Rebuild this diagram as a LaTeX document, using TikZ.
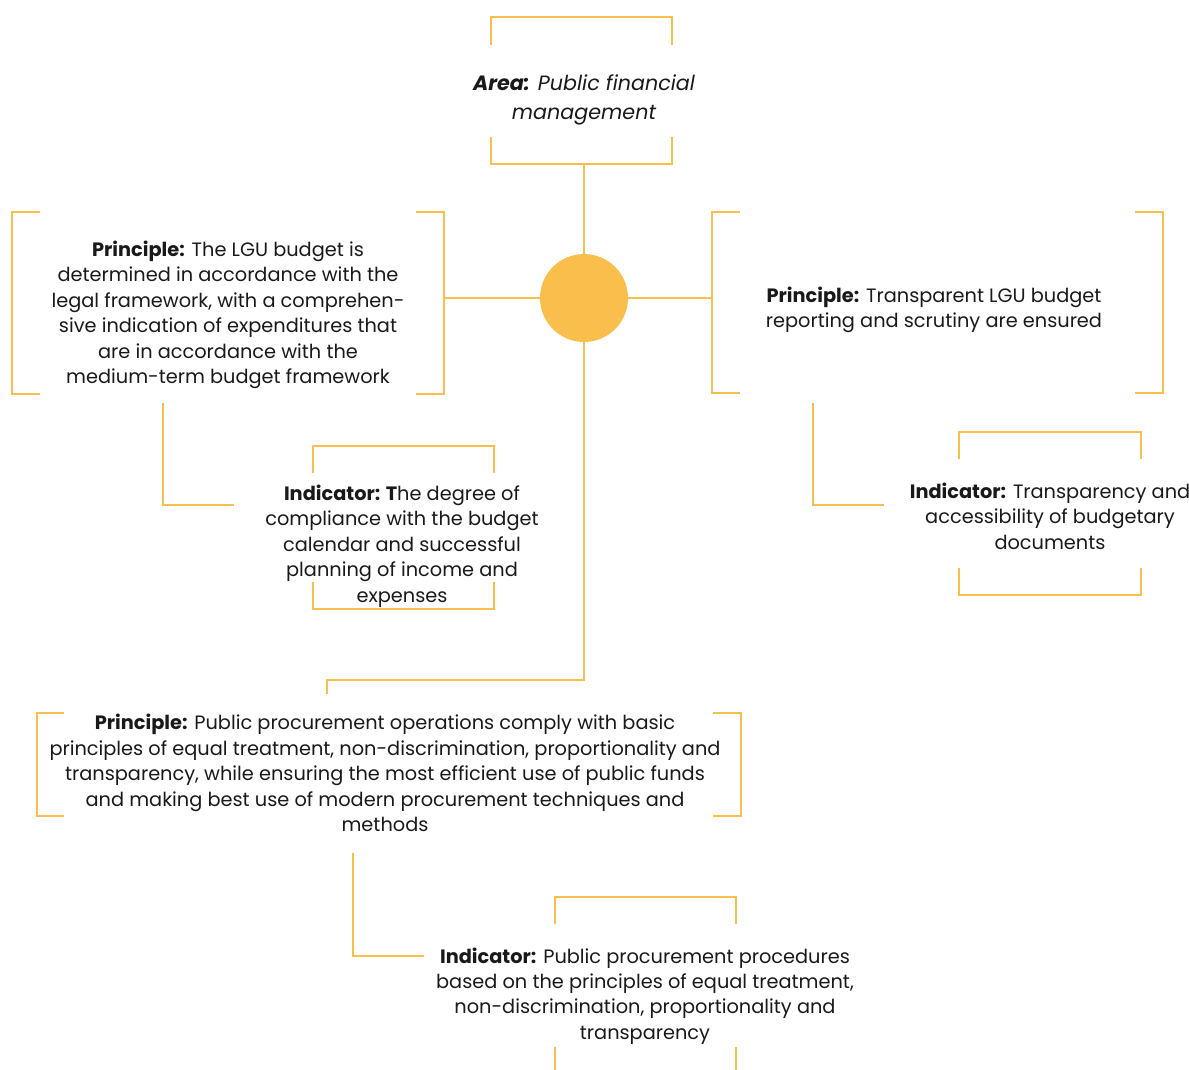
\documentclass[tikz,border=0pt]{standalone}
\usepackage{fontspec}
\setmainfont{Poppins}
\definecolor{gold}{HTML}{F9BE4C}
\tikzset{
  brk/.style={draw=gold, line width=1.9pt},
  link/.style={draw=gold, line width=1.9pt},
  txt/.style={align=center, inner sep=0pt, text=black!90, font=\fontsize{14.5}{19.1}\selectfont},
  areatxt/.style={align=center, inner sep=0pt, text=black!90, font=\fontsize{15.5}{21.8}\selectfont\itshape}
}
\begin{document}
\begin{tikzpicture}[x=0.75pt,y=-0.75pt]
\useasboundingbox (0,0) rectangle (1189,1070);
% Area
\draw[brk] (491,45) -- (491,17) -- (672,17) -- (672,45);
\draw[brk] (491,137) -- (491,164) -- (672,164) -- (672,137);
\coordinate (areabot) at (584,164);
\node[areatxt] (area) at (584,100) {\textbf{Area:} Public financial\\management};
% hub
\node[circle, fill=gold, minimum size=88*0.75pt, inner sep=0pt] (hub) at (584,298) {};
\draw[link] (areabot) -- (hub);
% left principle
\draw[brk] (40,212) -- (12,212) -- (12,394) -- (40,394);
\draw[brk] (416,212) -- (444,212) -- (444,394) -- (416,394);
\coordinate (p1r) at (444,298);
\draw[link] (p1r) -- (hub.west);
\node[txt] (p1) at (228,315) {\textbf{Principle:} The LGU budget is\\determined in accordance with the\\legal framework, with a comprehen-\\sive indication of expenditures that\\are in accordance with the\\medium-term budget framework};
% right principle
\draw[brk] (740,212) -- (712,212) -- (712,393) -- (740,393);
\draw[brk] (1135,212) -- (1163,212) -- (1163,393) -- (1135,393);
\coordinate (p2l) at (712,298);
\draw[link] (hub.east) -- (p2l);
\node[txt] (p2) at (934,310) {\textbf{Principle:} Transparent LGU budget\\reporting and scrutiny are ensured};
% left indicator
\coordinate (i1a) at (163,403);
\coordinate (i1b) at (234,505);
\draw[link] (i1a) |- (i1b);
\draw[brk] (313,473) -- (313,446) -- (494,446) -- (494,473);
\draw[brk] (313,582) -- (313,609) -- (494,609) -- (494,582);
\node[txt] (i1) at (402,546) {\textbf{Indicator: T}he degree of\\compliance with the budget\\calendar and successful\\planning of income and\\expenses};
% right indicator
\coordinate (i2a) at (813,403);
\coordinate (i2b) at (884,505);
\draw[link] (i2a) |- (i2b);
\draw[brk] (959,459) -- (959,432) -- (1141,432) -- (1141,459);
\draw[brk] (959,568) -- (959,595) -- (1141,595) -- (1141,568);
\node[txt] (i2) at (1050,516) {\textbf{Indicator:} Transparency and\\accessibility of budgetary\\documents};
% down to bottom principle
\coordinate (p3top) at (327,694);
\draw[link] (hub.south) -- (584,680) -- (327,680) -- (p3top);
\draw[brk] (64,713) -- (37,713) -- (37,816) -- (64,816);
\draw[brk] (713,713) -- (741,713) -- (741,816) -- (713,816);
\node[txt] (p3) at (385,773) {\textbf{Principle:} Public procurement operations comply with basic\\principles of equal treatment, non-discrimination, proportionality and\\transparency, while ensuring the most efficient use of public funds\\and making best use of modern procurement techniques and\\methods};
% bottom indicator
\coordinate (i3a) at (353,853);
\coordinate (i3b) at (424,956);
\draw[link] (i3a) |- (i3b);
\draw[brk] (555,924) -- (555,897) -- (736,897) -- (736,924);
\draw[brk] (555,1047) -- (555,1072);
\draw[brk] (736,1047) -- (736,1072);
\node[txt] (i3) at (645,996) {\textbf{Indicator:} Public procurement procedures\\based on the principles of equal treatment,\\non-discrimination, proportionality and\\transparency};
\end{tikzpicture}
\end{document}
